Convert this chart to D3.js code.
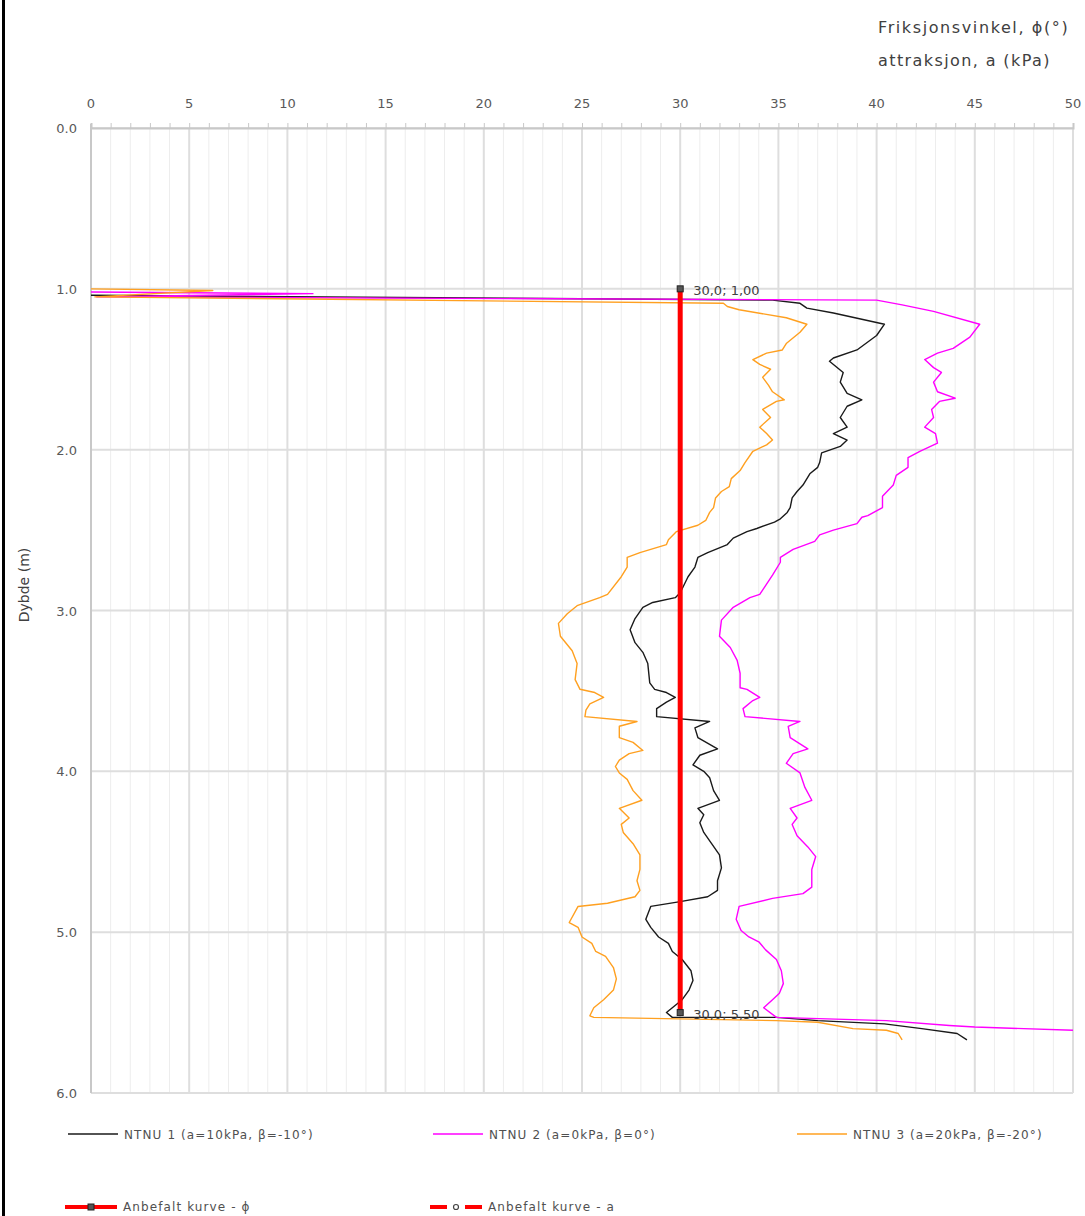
<!DOCTYPE html>
<html><head><meta charset="utf-8">
<script src="https://cdn.jsdelivr.net/npm/d3@7"></script>
<style>
html,body{margin:0;padding:0;background:#fff;}
svg{display:block;font-family:"DejaVu Sans",Verdana,sans-serif;}
</style></head>
<body>
<svg id="c" width="1085" height="1216"></svg>
<script>
// ---- data: [friksjonsvinkel/value, depth (m)] ----
const xTicks = [0,5,10,15,20,25,30,35,40,45,50];
const depthTicks = [0,1,2,3,4,5,6];
const depthLabels = ["0.0","1.0","2.0","3.0","4.0","5.0","6.0"];
const seriesNames = ["NTNU 1 (a=10kPa, β=-10°)","NTNU 2 (a=0kPa, β=0°)","NTNU 3 (a=20kPa, β=-20°)"];
const recNames = ["Anbefalt kurve - ϕ","Anbefalt kurve - a"];

const ntnu1 = [[0.0,1.04],[34.7,1.07],[36.1,1.09],[36.45,1.12],[37.8,1.15],[40.4,1.22],[40.0,1.29],[39.0,1.38],[37.8,1.43],[37.6,1.45],[38.3,1.52],[38.15,1.58],[38.5,1.65],[39.25,1.69],[38.5,1.73],[38.15,1.80],[38.5,1.86],[37.8,1.90],[38.5,1.94],[38.15,1.98],[37.2,2.02],[37.1,2.08],[37.0,2.11],[36.6,2.15],[36.25,2.22],[35.95,2.26],[35.7,2.30],[35.6,2.36],[35.45,2.39],[35.1,2.43],[34.8,2.45],[33.9,2.49],[33.4,2.51],[32.7,2.55],[32.4,2.59],[31.4,2.64],[30.9,2.67],[30.75,2.73],[30.4,2.79],[30.0,2.89],[29.75,2.92],[28.6,2.95],[28.1,2.98],[27.7,3.05],[27.45,3.12],[27.7,3.20],[28.1,3.26],[28.35,3.33],[28.45,3.45],[28.7,3.49],[29.3,3.51],[29.75,3.54],[29.3,3.57],[28.8,3.61],[28.8,3.66],[31.5,3.69],[30.75,3.73],[30.9,3.79],[31.9,3.86],[31.0,3.90],[30.65,3.96],[31.2,4.00],[31.5,4.04],[31.7,4.12],[32.0,4.18],[30.9,4.23],[31.2,4.27],[31.0,4.32],[31.2,4.38],[31.6,4.45],[32.0,4.52],[32.1,4.60],[31.9,4.68],[31.9,4.74],[31.4,4.78],[30.0,4.81],[28.5,4.84],[28.25,4.92],[28.5,4.97],[28.9,5.03],[29.4,5.07],[29.6,5.12],[30.1,5.17],[30.55,5.24],[30.65,5.30],[30.45,5.36],[30.1,5.42],[29.6,5.47],[29.3,5.50],[29.6,5.53],[29.9,5.53],[34.9,5.53],[37.0,5.55],[40.4,5.57],[42.3,5.60],[44.1,5.63],[44.6,5.67]];

const ntnu2 = [[0.0,1.02],[11.3,1.03],[0.3,1.05],[40.0,1.07],[41.3,1.10],[42.9,1.14],[45.25,1.22],[44.75,1.30],[43.9,1.37],[43.1,1.40],[42.45,1.44],[42.9,1.49],[43.3,1.52],[42.9,1.58],[43.1,1.64],[44.0,1.68],[43.2,1.70],[42.8,1.75],[42.9,1.80],[42.45,1.86],[43.0,1.90],[43.1,1.96],[42.2,2.01],[41.6,2.05],[41.6,2.11],[41.0,2.16],[40.85,2.22],[40.3,2.29],[40.3,2.36],[39.55,2.41],[39.25,2.42],[39.0,2.46],[37.8,2.50],[37.1,2.53],[36.85,2.57],[35.75,2.62],[35.1,2.67],[35.1,2.70],[34.7,2.78],[34.05,2.90],[33.55,2.92],[32.7,2.98],[32.1,3.06],[32.0,3.16],[32.55,3.23],[32.9,3.31],[33.05,3.39],[33.05,3.48],[33.4,3.49],[34.05,3.54],[33.7,3.56],[33.2,3.61],[33.3,3.66],[36.1,3.69],[35.5,3.72],[35.6,3.79],[36.5,3.86],[35.75,3.89],[35.4,3.95],[36.1,4.01],[36.35,4.10],[36.7,4.18],[35.6,4.23],[35.95,4.29],[35.7,4.33],[35.95,4.40],[36.5,4.47],[36.9,4.53],[36.7,4.61],[36.7,4.72],[36.25,4.76],[34.7,4.79],[33.0,4.84],[32.85,4.92],[33.1,4.99],[33.5,5.03],[34.0,5.06],[34.35,5.11],[34.9,5.17],[35.15,5.24],[35.25,5.32],[35.05,5.38],[34.7,5.42],[34.25,5.47],[34.9,5.53],[40.5,5.55],[43.7,5.58],[45.0,5.59],[50.0,5.61]];

const ntnu3 = [[0.0,1.00],[6.2,1.01],[0.2,1.05],[32.2,1.09],[32.4,1.11],[33.0,1.13],[35.4,1.18],[36.45,1.22],[36.1,1.27],[35.4,1.34],[35.2,1.38],[34.4,1.40],[33.7,1.44],[34.05,1.47],[34.6,1.50],[34.2,1.55],[34.5,1.60],[34.7,1.64],[35.3,1.69],[34.9,1.70],[34.2,1.75],[34.6,1.80],[34.05,1.86],[34.4,1.90],[34.7,1.94],[34.4,1.97],[33.7,2.01],[33.3,2.08],[33.05,2.13],[32.6,2.18],[32.5,2.23],[32.1,2.26],[31.8,2.30],[31.7,2.36],[31.5,2.39],[31.3,2.44],[30.9,2.47],[29.8,2.51],[29.4,2.56],[29.3,2.59],[27.95,2.64],[27.3,2.67],[27.3,2.73],[27.0,2.79],[26.3,2.90],[25.9,2.92],[24.75,2.97],[24.25,3.02],[23.8,3.08],[23.9,3.16],[24.5,3.25],[24.75,3.33],[24.65,3.43],[24.9,3.49],[25.65,3.51],[26.1,3.54],[25.4,3.58],[25.2,3.62],[25.15,3.66],[27.8,3.69],[26.9,3.72],[26.9,3.79],[27.6,3.82],[28.1,3.87],[27.4,3.89],[26.9,3.93],[26.7,3.97],[26.9,4.01],[27.3,4.05],[27.6,4.12],[28.05,4.18],[26.9,4.23],[27.4,4.29],[27.0,4.33],[27.1,4.38],[27.6,4.45],[27.95,4.52],[27.95,4.61],[27.8,4.68],[27.95,4.74],[27.7,4.78],[26.3,4.82],[24.8,4.84],[24.35,4.94],[24.8,4.97],[25.0,5.03],[25.5,5.07],[25.7,5.12],[26.2,5.15],[26.6,5.22],[26.75,5.29],[26.6,5.36],[26.1,5.42],[25.6,5.47],[25.4,5.52],[25.6,5.53],[34.9,5.55],[37.0,5.56],[38.8,5.60],[40.5,5.61],[41.1,5.63],[41.3,5.67]];

const recPhi = [[30.0,1.00],[30.0,5.50]];
const recPhiLabels = ["30,0; 1,00","30,0; 5,50"];

// ---- drawing ----
const svg = d3.select("#c");
const L = 91, R = 1073, T = 128, B = 1093;
const x = d3.scaleLinear().domain([0,50]).range([L,R]);
const y = d3.scaleLinear().domain([0,6]).range([T,B]);

// frame left edge
svg.append("rect").attr("x",2).attr("y",0).attr("width",3).attr("height",1216).attr("fill","#000");

// gridlines
const g = svg.append("g");
g.selectAll("line.minor").data(d3.range(0,51).filter(v=>v%5!==0)).enter().append("line")
  .attr("x1",d=>x(d)).attr("x2",d=>x(d)).attr("y1",T).attr("y2",B)
  .attr("stroke","#ededed").attr("stroke-width",1);
g.selectAll("line.major").data(xTicks).enter().append("line")
  .attr("x1",d=>x(d)).attr("x2",d=>x(d)).attr("y1",T).attr("y2",B)
  .attr("stroke","#dedede").attr("stroke-width",2);
g.selectAll("line.h").data(depthTicks).enter().append("line")
  .attr("x1",L).attr("x2",R).attr("y1",d=>y(d)).attr("y2",d=>y(d))
  .attr("stroke","#dedede").attr("stroke-width",2);

// top axis
const topAxis = d3.axisTop(x).tickValues(d3.range(0,51)).tickSize(5).tickFormat("");
const ta = svg.append("g").attr("transform",`translate(0,${T})`).call(topAxis);
ta.select(".domain").attr("stroke","#c8c8c8").attr("stroke-width",2);
ta.selectAll(".tick line").attr("stroke","#c8c8c8");
svg.append("line").attr("x1",L).attr("x2",L).attr("y1",T-4).attr("y2",B).attr("stroke","#c8c8c8").attr("stroke-width",2);

svg.append("g").selectAll("text").data(xTicks).enter().append("text")
  .attr("x",d=>x(d)).attr("y",108).attr("text-anchor","middle")
  .attr("font-size",13).attr("fill","#595959").text(d=>d);
svg.append("g").selectAll("text").data(depthTicks).enter().append("text")
  .attr("x",77).attr("y",d=>y(d)+5).attr("text-anchor","end")
  .attr("font-size",13).attr("fill","#595959").text((d,i)=>depthLabels[i]);

// axis titles
svg.append("text").attr("transform","translate(29,585) rotate(-90)").attr("text-anchor","middle")
  .attr("font-size",14).attr("fill","#404040").text("Dybde (m)");
svg.append("text").attr("x",878).attr("y",33).attr("font-size",16).attr("letter-spacing",1.6).attr("fill","#404040").text("Friksjonsvinkel, ϕ(°)");
svg.append("text").attr("x",878).attr("y",66).attr("font-size",16).attr("letter-spacing",1.4).attr("fill","#404040").text("attraksjon, a (kPa)");

// clip
svg.append("clipPath").attr("id","clip").append("rect").attr("x",L).attr("y",T-2).attr("width",R-L+1).attr("height",B-T+4);

const line = d3.line().x(d=>x(d[0])).y(d=>y(d[1]));
const colors = ["#1a1a1a","#ff00ff","#ffa020"];
const plot = svg.append("g").attr("clip-path","url(#clip)");
[ntnu1,ntnu2,ntnu3].forEach((s,i)=>{
  plot.append("path").datum(s).attr("d",line).attr("fill","none")
    .attr("stroke",colors[i]).attr("stroke-width",1.4).attr("stroke-linejoin","round");
});
// recommended phi
plot.append("path").datum(recPhi).attr("d",line).attr("fill","none").attr("stroke","#ff0000").attr("stroke-width",5);
plot.selectAll("rect.m").data(recPhi).enter().append("rect")
  .attr("x",d=>x(d[0])-3).attr("y",d=>y(d[1])-3).attr("width",6).attr("height",6)
  .attr("fill","#555").attr("stroke","#222").attr("stroke-width",1);
svg.selectAll("text.lbl").data(recPhi).enter().append("text")
  .attr("x",d=>x(d[0])+13).attr("y",d=>y(d[1])+6).attr("font-size",13).attr("fill","#404040")
  .text((d,i)=>recPhiLabels[i]);

// legend
const leg = svg.append("g").attr("font-size",12).attr("letter-spacing",1.1).attr("fill","#505050");
const legX = [68,433,797];
seriesNames.forEach((n,i)=>{
  leg.append("line").attr("x1",legX[i]).attr("x2",legX[i]+50).attr("y1",1134).attr("y2",1134)
    .attr("stroke",colors[i]).attr("stroke-width",1.5);
  leg.append("text").attr("x",legX[i]+56).attr("y",1139).text(n);
});
leg.append("line").attr("x1",65).attr("x2",117).attr("y1",1207).attr("y2",1207).attr("stroke","#ff0000").attr("stroke-width",4);
leg.append("rect").attr("x",88).attr("y",1204).attr("width",6).attr("height",6).attr("fill","#555").attr("stroke","#222");
leg.append("text").attr("x",123).attr("y",1211).text(recNames[0]);
leg.append("line").attr("x1",430).attr("x2",482).attr("y1",1207).attr("y2",1207).attr("stroke","#ff0000").attr("stroke-width",4).attr("stroke-dasharray","17,18");
leg.append("circle").attr("cx",456).attr("cy",1207).attr("r",2.5).attr("fill","#fff").attr("stroke","#444").attr("stroke-width",1.2);
leg.append("text").attr("x",488).attr("y",1211).text(recNames[1]);
</script>
</body></html>
